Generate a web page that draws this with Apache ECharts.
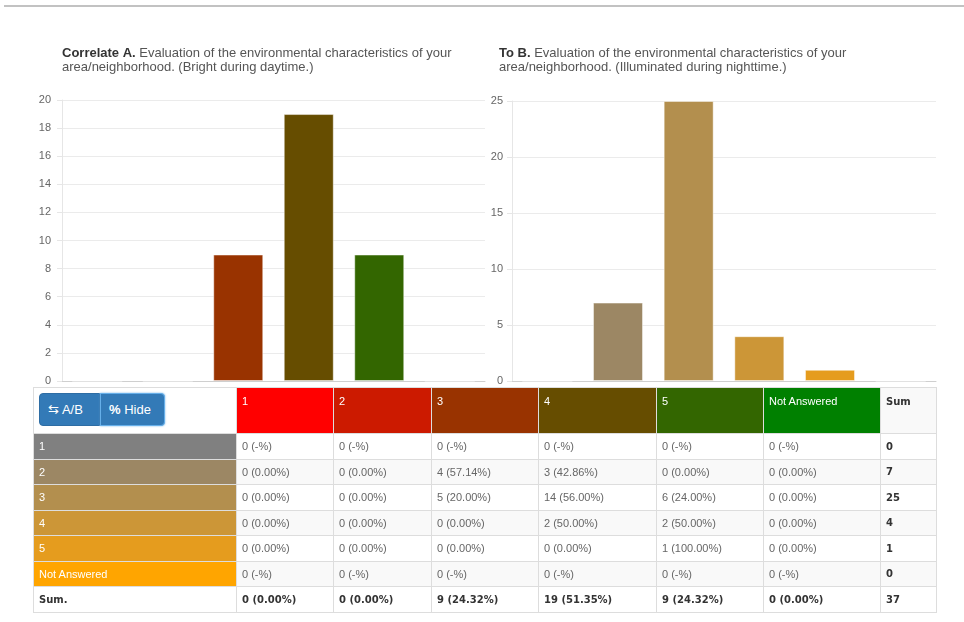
<!DOCTYPE html>
<html>
<head>
<meta charset="utf-8">
<script src="https://cdn.jsdelivr.net/npm/echarts@6/dist/echarts.min.js"></script>
<style>
  html, body { margin:0; padding:0; background:#fff; width:964px; height:622px; overflow:hidden; font-family:"Liberation Sans", Arial, sans-serif; }
  #topline { position:absolute; left:4px; top:5px; width:960px; height:2px; background:#c2c2c2; }
  #chart { position:absolute; left:0; top:0; width:964px; height:622px; }
  #tbl { position:absolute; left:33px; top:387px; width:903px; border-collapse:collapse; table-layout:fixed; font-size:11px; color:#666; }
  #tbl td { border:1px solid #dddddd; padding:0 0 0 5px; vertical-align:middle; white-space:nowrap; overflow:hidden; }
  #tbl tr.head td { vertical-align:top; padding-top:7px; color:#fff; }
  #tbl tr.head td.btncell { padding:5px 0 0 5px; background:#fff; }
  #tbl tr.head td.sumh { color:#333; font-weight:bold; background:#f9f9f9; padding-top:8px; font-family:"DejaVu Sans", Verdana, sans-serif; font-size:10px; }
  #tbl tr.even td { background:#f9f9f9; }
  #tbl td.rh { color:#fff; }
  #tbl td.b { font-weight:bold; color:#333; font-family:"DejaVu Sans", Verdana, sans-serif; font-size:10px; }
  .btn { display:inline-block; box-sizing:border-box; height:33px; line-height:31px; background:#337ab7; color:#fff; font-size:13px; border:1px solid #2e6da4; border-radius:4px; padding:0 8px; vertical-align:top; }
  .btn1 { width:61px; border-top-right-radius:0; border-bottom-right-radius:0; }
  .btn2 { width:65px; border:1px solid #66afe9; box-shadow:0 0 2px #66afe9; border-top-left-radius:0; border-bottom-left-radius:0; margin-left:0px; }
</style>
</head>
<body>
<div id="topline"></div>
<div id="chart"></div>
<table id="tbl"></table>
<script>
// ---- data ----
var categories = ['1', '2', '3', '4', '5', 'Not Answered'];
var seriesA = [0, 0, 9, 19, 9, 0];      // Correlate A counts
var seriesB = [0, 7, 25, 4, 1, 0];      // To B counts
var yTicksA = [0, 2, 4, 6, 8, 10, 12, 14, 16, 18, 20];
var yTicksB = [0, 5, 10, 15, 20, 25];
// cross tab: rows = B answers, columns = A answers
var crossRow1  = [0, 0, 0, 0, 0, 0];
var crossRow2  = [0, 0, 4, 3, 0, 0];
var crossRow3  = [0, 0, 5, 14, 6, 0];
var crossRow4  = [0, 0, 0, 2, 2, 0];
var crossRow5  = [0, 0, 0, 0, 1, 0];
var crossRowNA = [0, 0, 0, 0, 0, 0];
var crossRows = [crossRow1, crossRow2, crossRow3, crossRow4, crossRow5, crossRowNA];
var titleA = ['Correlate A.', 'Evaluation of the environmental characteristics of your', 'area/neighborhood. (Bright during daytime.)'];
var titleB = ['To B.', 'Evaluation of the environmental characteristics of your', 'area/neighborhood. (Illuminated during nighttime.)'];

// ---- styles ----
var colorsA = ['#ff0000', '#cc1a00', '#993300', '#664d00', '#336600', '#008000'];
var colorsB = ['#808080', '#9c8764', '#b38f4e', '#cc9637', '#e59c1e', '#ffa500'];

var chart = echarts.init(document.getElementById('chart'), null, { renderer: 'canvas' });

function yAxis(idx, ticks, margin) {
  return {
    type: 'value', gridIndex: idx, min: ticks[0], max: ticks[ticks.length - 1],
    interval: ticks[1] - ticks[0],
    axisLine: { show: true, lineStyle: { color: '#e6e6e6' } },
    axisTick: { show: true, length: 5, lineStyle: { color: '#e6e6e6' } },
    axisLabel: { color: '#666', fontSize: 11, margin: margin, fontFamily: 'Liberation Sans' },
    splitLine: { lineStyle: { color: '#ebebeb' } }
  };
}
function xAxis(idx) {
  return {
    type: 'category', gridIndex: idx, data: categories,
    axisLine: { show: true, lineStyle: { color: '#cfcfcf' } },
    axisTick: { show: false }, axisLabel: { show: false }, splitLine: { show: false }
  };
}
function titleComp(left, t) {
  return {
    left: left, top: 46, padding: 0,
    text: '{b|' + t[0] + '} {n|' + t[1] + '}\n{n|' + t[2] + '}',
    textStyle: {
      fontFamily: 'Liberation Sans', fontSize: 13, lineHeight: 14, fontWeight: 'normal', color: '#555',
      rich: {
        b: { fontWeight: 'bold', color: '#333', fontSize: 13, fontFamily: 'Liberation Sans', lineHeight: 14 },
        n: { fontWeight: 'normal', color: '#555', fontSize: 13, fontFamily: 'Liberation Sans', lineHeight: 14 }
      }
    }
  };
}
function barData(vals, colors) {
  return vals.map(function (v, i) {
    return { value: v, itemStyle: { color: colors[i], borderColor: 'rgba(255,255,255,0.45)', borderWidth: 1 } };
  });
}

chart.setOption({
  animation: false,
  title: [titleComp(62, titleA), titleComp(499, titleB)],
  grid: [
    { left: 62, right: 479, top: 100, bottom: 241 },
    { left: 512, right: 28, top: 101, bottom: 241 }
  ],
  xAxis: [xAxis(0), xAxis(1)],
  yAxis: [yAxis(0, yTicksA, 11), yAxis(1, yTicksB, 9)],
  series: [
    { type: 'bar', xAxisIndex: 0, yAxisIndex: 0, barWidth: 50, data: barData(seriesA, colorsA) },
    { type: 'bar', xAxisIndex: 1, yAxisIndex: 1, barWidth: 50, data: barData(seriesB, colorsB) }
  ]
});

// ---- table ----
(function () {
  var colW = [203, 97, 98, 107, 118, 107, 117, 56];
  var tbl = document.getElementById('tbl');
  var cg = '<colgroup>' + colW.map(function (w) { return '<col style="width:' + w + 'px">'; }).join('') + '</colgroup>';
  var html = cg;
  html += '<tr class="head" style="height:46px"><td class="btncell"><span class="btn btn1">&#8646; A/B</span><span class="btn btn2"><b>%</b> Hide</span></td>';
  categories.forEach(function (c, i) {
    html += '<td style="background:' + colorsA[i] + '">' + c + '</td>';
  });
  html += '<td class="sumh">Sum</td></tr>';
  var total = 0;
  var colSums = categories.map(function () { return 0; });
  crossRows.forEach(function (row, r) {
    var rs = row.reduce(function (a, b) { return a + b; }, 0);
    total += rs;
    html += '<tr class="' + (r % 2 === 1 ? 'even' : 'odd') + '" style="height:25.5px"><td class="rh" style="background:' + colorsB[r] + '">' + categories[r] + '</td>';
    row.forEach(function (v, c) {
      colSums[c] += v;
      var pct = rs === 0 ? '-' : (v / rs * 100).toFixed(2);
      html += '<td>' + v + ' (' + pct + '%)</td>';
    });
    html += '<td class="b">' + rs + '</td></tr>';
  });
  html += '<tr class="odd" style="height:26px"><td class="b">Sum.</td>';
  colSums.forEach(function (s) {
    html += '<td class="b">' + s + ' (' + (s / total * 100).toFixed(2) + '%)</td>';
  });
  html += '<td class="b">' + total + '</td></tr>';
  tbl.innerHTML = html;
})();
</script>
</body>
</html>
